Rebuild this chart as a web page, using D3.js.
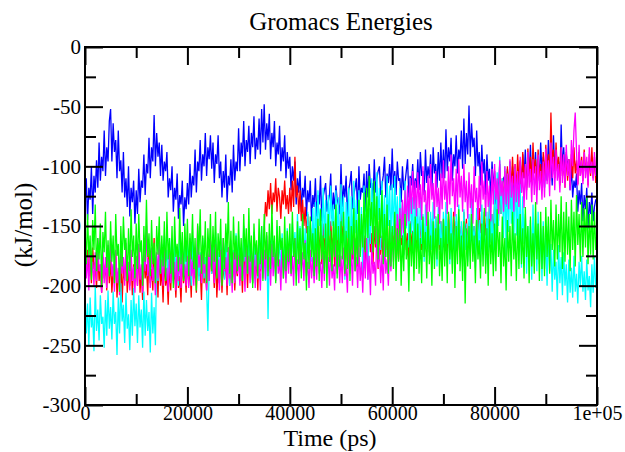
<!DOCTYPE html>
<html>
<head>
<meta charset="utf-8">
<script src="https://cdn.jsdelivr.net/npm/d3@7"></script>
<style>
  html, body { margin: 0; padding: 0; background: #fff; }
  svg { display: block; }
</style>
</head>
<body>
<svg id="chart" width="625" height="452"></svg>
<script>
const timeStep = 250;
const xTicks = [0, 20000, 40000, 60000, 80000, 100000];
const xTickLabels = ["0", "20000", "40000", "60000", "80000", "1e+05"];
const yTicks = [0, -50, -100, -150, -200, -250, -300];
const yTickLabels = ["0", "-50", "-100", "-150", "-200", "-250", "-300"];

const blue = [
-132,-110,-145,-118,-128,-100,-140,-108,-122,-95,-118,-80,-112,-92,-104,-70,-108,-84,-96,-62,
-52,-96,-64,-88,-78,-110,-70,-104,-95,-122,-88,-126,-110,-134,-100,-142,-118,-130,-112,-148,
-120,-140,-102,-130,-112,-118,-90,-124,-98,-106,-76,-110,-84,-96,-57,-100,-72,-92,-80,-108,
-82,-112,-96,-104,-88,-126,-110,-120,-100,-138,-118,-128,-106,-144,-124,-132,-112,-150,-126,-136,
-114,-132,-98,-126,-108,-116,-86,-122,-96,-104,-78,-112,-90,-100,-72,-108,-84,-94,-74,-102,
-80,-114,-90,-98,-74,-110,-96,-126,-104,-118,-90,-130,-108,-116,-94,-122,-82,-112,-96,-104,
-68,-104,-80,-92,-62,-100,-78,-88,-66,-98,-72,-84,-58,-94,-76,-86,-60,-90,-52,-80,
-48,-86,-64,-78,-56,-94,-72,-84,-62,-100,-80,-90,-66,-104,-84,-96,-74,-110,-88,-102,
-92,-120,-100,-112,-96,-132,-110,-122,-104,-138,-118,-126,-108,-142,-120,-130,-112,-146,-124,-134,
-110,-142,-124,-132,-108,-146,-126,-120,-114,-138,-130,-124,-106,-144,-122,-136,-116,-128,-132,-140,
-98,-134,-116,-126,-108,-142,-120,-114,-104,-136,-124,-118,-110,-140,-100,-128,-118,-122,-106,-138,
-104,-126,-98,-118,-114,-130,-94,-122,-110,-104,-100,-124,-116,-108,-92,-126,-106,-114,-98,-120,
-85,-118,-104,-124,-96,-112,-110,-130,-100,-120,-114,-104,-94,-126,-108,-116,-98,-122,-110,-118,
-94,-120,-88,-108,-104,-124,-86,-114,-100,-110,-90,-122,-84,-106,-98,-118,-88,-112,-80,-110,
-86,-110,-69,-104,-84,-96,-76,-112,-90,-100,-74,-106,-86,-94,-70,-102,-60,-98,-72,-90,
-49,-92,-64,-84,-76,-108,-70,-100,-88,-116,-82,-106,-94,-124,-90,-112,-102,-128,-96,-118,
-104,-132,-112,-120,-98,-128,-116,-110,-108,-134,-102,-124,-114,-136,-100,-122,-116,-130,-106,-126,
-96,-122,-90,-110,-86,-118,-100,-108,-82,-116,-96,-104,-88,-120,-94,-112,-80,-106,-92,-118,
-90,-112,-78,-102,-94,-116,-74,-106,-88,-98,-96,-114,-65,-104,-84,-110,-90,-100,-94,-120,
-100,-126,-112,-118,-106,-138,-120,-132,-114,-146,-124,-136,-118,-152,-130,-140,-122,-146,-134,-128,
-128];

const red = [
-162,-184,-170,-192,-175,-198,-168,-186,-180,-202,-172,-196,-185,-206,-176,-194,-182,-204,-170,-198,
-178,-206,-186,-198,-172,-210,-190,-200,-176,-214,-184,-196,-170,-206,-188,-200,-176,-208,-182,-196,
-180,-200,-168,-206,-186,-212,-174,-194,-182,-208,-170,-198,-186,-204,-160,-196,-178,-210,-170,-200,
-186,-214,-176,-200,-190,-216,-180,-204,-172,-196,-188,-210,-178,-202,-192,-214,-176,-198,-184,-206,
-170,-200,-184,-210,-166,-194,-180,-206,-172,-192,-186,-212,-168,-198,-182,-204,-174,-196,-170,-190,
-180,-202,-174,-210,-186,-198,-170,-206,-182,-194,-176,-208,-168,-200,-184,-196,-172,-204,-180,-192,
-168,-196,-178,-206,-160,-190,-174,-202,-166,-186,-180,-198,-162,-194,-176,-204,-168,-188,-170,-184,
-152,-130,-142,-120,-136,-114,-140,-122,-130,-110,-138,-118,-126,-144,-120,-132,-112,-136,-124,-140,
-118,-138,-112,-134,-92,-126,-116,-140,-120,-146,-128,-150,-134,-156,-140,-162,-150,-168,-156,-172,
-160,-178,-150,-172,-155,-182,-148,-170,-158,-176,-152,-180,-146,-168,-160,-184,-150,-172,-156,-178,
-118,-164,-150,-176,-158,-182,-146,-170,-156,-178,-148,-172,-160,-184,-150,-168,-144,-176,-158,-180,
-160,-176,-148,-172,-156,-182,-150,-168,-162,-186,-146,-174,-158,-180,-152,-170,-160,-184,-148,-174,
-155,-170,-145,-176,-160,-178,-150,-166,-158,-174,-148,-170,-156,-180,-146,-168,-154,-176,-150,-172,
-150,-168,-142,-170,-155,-176,-148,-164,-152,-172,-144,-168,-150,-174,-142,-166,-152,-170,-146,-168,
-145,-166,-150,-172,-140,-160,-148,-168,-138,-162,-146,-170,-142,-164,-150,-172,-138,-160,-144,-166,
-148,-166,-140,-160,-150,-170,-142,-158,-135,-156,-146,-164,-138,-158,-144,-162,-132,-154,-140,-158,
-130,-150,-124,-146,-116,-140,-110,-132,-104,-128,-100,-124,-96,-120,-92,-116,-98,-122,-90,-114,
-95,-118,-88,-110,-100,-120,-85,-108,-92,-115,-80,-106,-94,-118,-86,-110,-98,-120,-88,-112,
-82,-105,-90,-112,-55,-98,-86,-110,-80,-104,-92,-116,-84,-108,-96,-118,-88,-112,-94,-116,
-90,-110,-84,-106,-95,-115,-88,-108,-92,-112,-86,-104,-96,-116,-90,-108,-84,-110,-92,-114,
-100];

const cyan = [
-205,-240,-215,-250,-210,-235,-225,-255,-200,-238,-220,-246,-208,-232,-226,-252,-212,-242,-204,-236,
-218,-245,-205,-232,-222,-258,-210,-240,-198,-230,-216,-248,-206,-236,-224,-254,-212,-242,-202,-234,
-215,-248,-208,-235,-220,-252,-205,-242,-212,-238,-222,-256,-206,-240,-218,-250,-175,-196,-168,-190,
-165,-188,-158,-180,-170,-195,-160,-185,-172,-198,-162,-190,-176,-200,-158,-184,-168,-194,-160,-188,
-162,-190,-175,-200,-158,-185,-170,-192,-165,-196,-172,-188,-160,-194,-176,-202,-238,-184,-166,-190,
-165,-190,-155,-182,-172,-198,-160,-188,-168,-195,-158,-186,-174,-200,-162,-190,-170,-196,-156,-184,
-158,-185,-170,-195,-150,-180,-165,-190,-160,-188,-172,-198,-155,-184,-168,-194,-160,-186,-150,-182,
-170,-196,-162,-228,-165,-190,-155,-182,-168,-195,-150,-178,-162,-190,-156,-184,-166,-194,-152,-180,
-160,-188,-148,-175,-155,-182,-140,-170,-150,-178,-144,-176,-152,-184,-138,-168,-146,-180,-135,-172,
-130,-165,-120,-150,-135,-172,-118,-160,-128,-190,-124,-158,-116,-150,-132,-176,-120,-162,-126,-185,
-115,-150,-125,-195,-130,-160,-118,-188,-125,-170,-112,-156,-128,-180,-120,-166,-134,-192,-116,-160,
-128,-195,-135,-165,-110,-150,-120,-160,-105,-145,-118,-170,-112,-158,-124,-176,-108,-150,-116,-164,
-115,-158,-108,-150,-125,-170,-118,-160,-130,-175,-112,-152,-122,-168,-110,-156,-126,-172,-120,-162,
-135,-172,-128,-165,-140,-180,-132,-168,-145,-175,-138,-170,-130,-178,-142,-184,-134,-166,-146,-176,
-138,-170,-130,-165,-145,-182,-135,-172,-150,-178,-140,-168,-132,-176,-146,-184,-136,-170,-148,-180,
-140,-175,-128,-168,-150,-185,-135,-170,-145,-180,-132,-166,-148,-182,-138,-172,-126,-164,-140,-178,
-120,-165,-105,-150,-92,-140,-110,-160,-100,-175,-108,-155,-96,-148,-114,-168,-102,-158,-118,-172,
-115,-185,-125,-165,-140,-190,-150,-178,-145,-195,-132,-176,-148,-188,-138,-182,-152,-196,-146,-186,
-160,-200,-150,-188,-165,-205,-170,-195,-180,-212,-166,-198,-176,-208,-172,-200,-182,-214,-178,-206,
-185,-210,-175,-205,-190,-215,-180,-200,-175,-205,-188,-212,-178,-204,-192,-218,-182,-206,-176,-202,
-190];

const magenta = [
-168,-194,-176,-204,-164,-190,-180,-200,-172,-196,-160,-188,-182,-206,-170,-198,-176,-202,-166,-192,
-160,-192,-182,-205,-170,-198,-185,-208,-168,-190,-176,-200,-164,-194,-180,-204,-170,-196,-184,-206,
-175,-200,-165,-195,-182,-206,-170,-188,-150,-192,-178,-202,-168,-196,-184,-208,-172,-194,-160,-190,
-178,-200,-168,-195,-185,-205,-172,-198,-165,-190,-180,-204,-170,-196,-176,-202,-164,-192,-182,-200,
-175,-202,-160,-192,-180,-200,-168,-195,-150,-185,-174,-198,-166,-190,-182,-204,-170,-196,-162,-188,
-172,-198,-165,-190,-178,-204,-170,-195,-160,-188,-176,-200,-168,-194,-180,-206,-172,-198,-164,-190,
-175,-200,-168,-192,-180,-205,-162,-190,-175,-198,-170,-196,-178,-202,-166,-192,-182,-204,-170,-194,
-170,-195,-158,-188,-176,-200,-165,-192,-172,-196,-168,-190,-178,-204,-164,-194,-174,-198,-166,-190,
-168,-192,-175,-200,-160,-190,-178,-198,-165,-188,-172,-196,-162,-192,-180,-202,-170,-194,-176,-198,
-172,-195,-165,-190,-180,-202,-170,-196,-162,-186,-176,-200,-168,-194,-182,-204,-166,-190,-174,-198,
-175,-198,-168,-192,-182,-206,-165,-190,-172,-200,-160,-188,-176,-202,-168,-196,-180,-206,-170,-194,
-160,-195,-175,-208,-165,-190,-180,-200,-150,-185,-168,-198,-174,-204,-162,-190,-178,-200,-165,-188,
-155,-180,-148,-172,-140,-165,-135,-160,-128,-156,-120,-150,-116,-146,-110,-140,-104,-136,-112,-142,
-105,-135,-115,-145,-100,-130,-120,-150,-108,-138,-98,-128,-114,-144,-104,-134,-118,-148,-106,-136,
-95,-128,-112,-140,-100,-132,-90,-125,-110,-142,-102,-134,-94,-126,-108,-138,-98,-130,-112,-144,
-105,-135,-115,-148,-100,-130,-118,-145,-108,-138,-96,-128,-112,-142,-104,-134,-116,-146,-102,-132,
-98,-128,-110,-140,-95,-125,-112,-138,-100,-132,-106,-136,-94,-126,-108,-138,-98,-130,-104,-134,
-92,-122,-105,-135,-98,-128,-88,-118,-102,-130,-94,-124,-100,-132,-90,-120,-104,-128,-96,-126,
-85,-115,-95,-125,-80,-110,-92,-120,-86,-112,-98,-122,-84,-114,-90,-118,-82,-108,-94,-120,
-78,-100,-70,-55,-88,-116,-82,-108,-95,-115,-88,-110,-92,-118,-84,-106,-96,-112,-88,-108,
-100];

const green = [
-150,-182,-140,-176,-158,-195,-145,-170,-132,-188,-160,-178,-148,-200,-155,-172,-138,-185,-162,-192,
-146,-180,-158,-198,-140,-175,-165,-205,-150,-184,-142,-170,-160,-196,-152,-188,-136,-176,-158,-194,
-148,-186,-140,-172,-162,-200,-150,-180,-128,-176,-156,-192,-145,-182,-164,-198,-150,-174,-142,-190,
-158,-184,-146,-196,-138,-178,-160,-190,-150,-202,-142,-176,-165,-188,-135,-182,-155,-196,-148,-180,
-144,-192,-156,-178,-140,-186,-160,-204,-148,-174,-136,-190,-158,-182,-146,-198,-152,-176,-140,-188,
-150,-180,-138,-194,-156,-176,-144,-200,-160,-186,-148,-172,-130,-190,-154,-198,-142,-178,-158,-188,
-146,-184,-160,-196,-140,-176,-152,-190,-135,-180,-158,-202,-148,-174,-162,-192,-144,-182,-150,-196,
-140,-178,-155,-192,-148,-186,-132,-176,-158,-198,-145,-184,-150,-170,-160,-194,-142,-188,-154,-180,
-148,-190,-138,-176,-160,-200,-146,-182,-152,-194,-140,-178,-164,-204,-150,-186,-142,-176,-156,-192,
-152,-184,-144,-196,-136,-178,-158,-190,-148,-202,-140,-180,-154,-188,-146,-176,-132,-194,-150,-184,
-146,-178,-138,-190,-154,-186,-142,-196,-150,-174,-135,-188,-145,-182,-128,-176,-140,-168,-122,-172,
-118,-160,-108,-150,-130,-172,-112,-165,-125,-178,-135,-160,-120,-182,-140,-176,-132,-190,-145,-184,
-150,-186,-138,-196,-152,-180,-144,-200,-158,-188,-140,-178,-162,-205,-148,-184,-155,-196,-142,-186,
-148,-190,-160,-198,-142,-176,-155,-194,-138,-182,-158,-200,-146,-186,-152,-178,-140,-192,-160,-196,
-144,-184,-150,-198,-138,-178,-156,-190,-142,-202,-150,-182,-136,-188,-158,-196,-146,-215,-152,-184,
-150,-186,-140,-180,-158,-198,-145,-178,-162,-194,-148,-184,-135,-190,-152,-200,-144,-182,-156,-192,
-148,-188,-136,-176,-155,-198,-142,-184,-160,-204,-145,-180,-150,-192,-138,-178,-156,-196,-144,-186,
-140,-182,-152,-194,-134,-176,-150,-198,-142,-184,-156,-190,-130,-178,-148,-196,-138,-186,-150,-192,
-134,-176,-142,-190,-128,-170,-145,-184,-132,-178,-140,-172,-125,-186,-138,-180,-130,-174,-142,-188,
-128,-170,-138,-184,-124,-166,-140,-180,-130,-176,-135,-168,-126,-182,-140,-174,-132,-178,-138,-170,
-155];

const seriesList = [
  { name: "blue", color: "#0000ff", values: blue },
  { name: "red", color: "#ff0000", values: red },
  { name: "cyan", color: "#00ffff", values: cyan },
  { name: "magenta", color: "#ff00ff", values: magenta },
  { name: "green", color: "#00ff00", values: green }
];

// ---- layout ----
const FONT = '"Liberation Serif", Tinos, "Times New Roman", Times, "DejaVu Serif", serif';
const svg = d3.select("#chart");
const L = 85, R = 597, T = 47, B = 405;
const x = d3.scaleLinear().domain([0, 100000]).range([L, R]);
const y = d3.scaleLinear().domain([-300, 0]).range([B, T]);

svg.append("clipPath").attr("id", "clip")
  .append("rect").attr("x", L).attr("y", T).attr("width", R - L).attr("height", B - T);

const line = d3.line()
  .x((d, i) => x(i * timeStep))
  .y(d => y(d));

const lines = svg.append("g").attr("clip-path", "url(#clip)");
seriesList.forEach(s => {
  lines.append("path")
    .datum(s.values)
    .attr("fill", "none")
    .attr("stroke", s.color)
    .attr("stroke-width", 1.3)
    .attr("stroke-linejoin", "bevel")
    .attr("d", line);
});

// ---- axes (ticks inward on all four sides) ----
const majorLen = 18, minorLen = 11;
const xMinor = d3.range(10000, 100000, 20000);
const yMinor = d3.range(-275, 0, 50);

function addAxis(axisGen, transform, showLabels) {
  const g = svg.append("g").attr("transform", transform).call(axisGen);
  g.attr("font-family", FONT);
  g.select(".domain").remove();
  g.selectAll(".tick line").attr("stroke", "#000").attr("stroke-width", 2);
  if (!showLabels) g.selectAll(".tick text").remove();
  return g;
}

// bottom
const bx = addAxis(
  d3.axisBottom(x).tickValues(xTicks).tickSizeInner(-majorLen).tickSizeOuter(0)
    .tickFormat((d, i) => xTickLabels[i]).tickPadding(1),
  `translate(0,${B})`, true);
bx.selectAll(".tick text").attr("font-size", 20).attr("fill", "#000");
addAxis(d3.axisBottom(x).tickValues(xMinor).tickSizeInner(-minorLen).tickSizeOuter(0),
  `translate(0,${B})`, false);
// top
addAxis(d3.axisTop(x).tickValues(xTicks).tickSizeInner(-majorLen).tickSizeOuter(0),
  `translate(0,${T})`, false);
addAxis(d3.axisTop(x).tickValues(xMinor).tickSizeInner(-minorLen).tickSizeOuter(0),
  `translate(0,${T})`, false);
// left
const ly = addAxis(
  d3.axisLeft(y).tickValues(yTicks).tickSizeInner(-majorLen).tickSizeOuter(0)
    .tickFormat((d, i) => yTickLabels[i]).tickPadding(4),
  `translate(${L},0)`, true);
ly.selectAll(".tick text").attr("font-size", 21).attr("fill", "#000");
addAxis(d3.axisLeft(y).tickValues(yMinor).tickSizeInner(-minorLen).tickSizeOuter(0),
  `translate(${L},0)`, false);
// right
addAxis(d3.axisRight(y).tickValues(yTicks).tickSizeInner(-majorLen).tickSizeOuter(0),
  `translate(${R},0)`, false);
addAxis(d3.axisRight(y).tickValues(yMinor).tickSizeInner(-minorLen).tickSizeOuter(0),
  `translate(${R},0)`, false);

// frame
svg.append("rect").attr("x", L).attr("y", T).attr("width", R - L).attr("height", B - T)
  .attr("fill", "none").attr("stroke", "#000").attr("stroke-width", 2);

// titles
svg.append("text").attr("x", (L + R) / 2).attr("y", 30)
  .attr("font-family", FONT)
  .attr("text-anchor", "middle").attr("font-size", 25).text("Gromacs Energies");
svg.append("text").attr("x", 330).attr("y", 446)
  .attr("font-family", FONT)
  .attr("text-anchor", "middle").attr("font-size", 24).text("Time (ps)");
svg.append("text").attr("transform", `translate(32,225) rotate(-90)`)
  .attr("font-family", FONT)
  .attr("text-anchor", "middle").attr("font-size", 25).text("(kJ/mol)");
</script>
</body>
</html>
